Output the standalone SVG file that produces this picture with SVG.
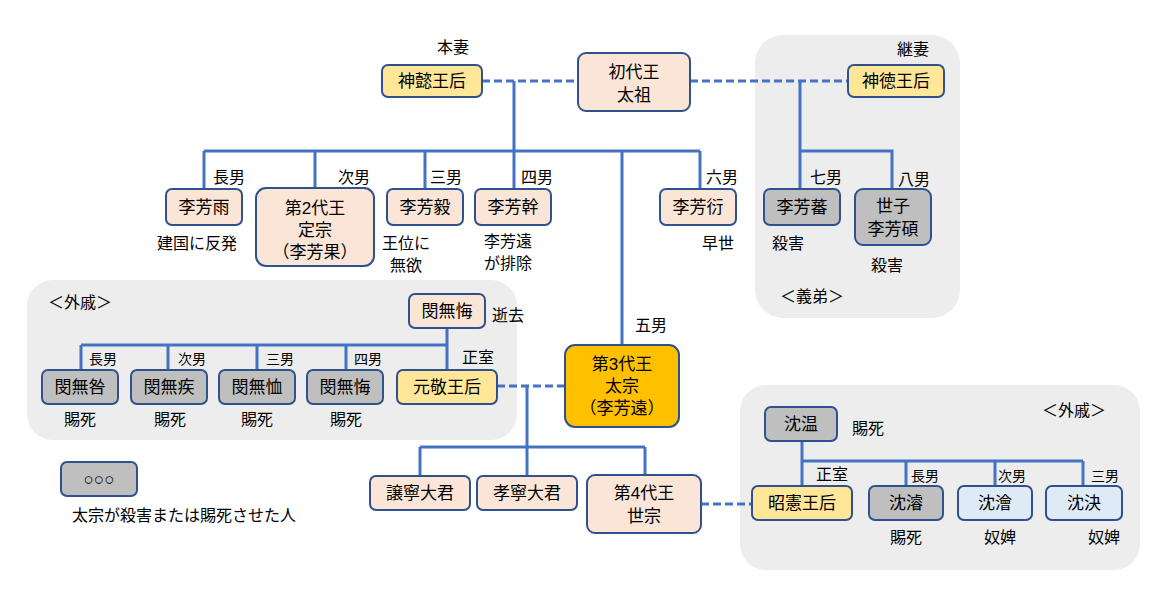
<svg xmlns="http://www.w3.org/2000/svg" width="1165" height="592" viewBox="0 0 1165 592">
<style>
text{font-family:"Liberation Sans","Noto Sans CJK JP",sans-serif;fill:#000;text-anchor:middle}
.n{font-size:17px}
.l{font-size:16px}
.s{font-size:14px}
.b{stroke:#2F528F;stroke-width:2}
.pe{fill:#FBE5D6}.ye{fill:#FFE699}.go{fill:#FFC000}.gr{fill:#BFBFBF}.lb{fill:#DEEBF7}
.ln{stroke:#4472C4;stroke-width:3;fill:none}
.d{stroke-dasharray:8 4}
.pn{fill:#EDEDED}
</style>
<rect class="pn" x="755" y="35" width="205" height="283" rx="28"/>
<rect class="pn" x="27" y="280" width="490" height="160" rx="26"/>
<rect class="pn" x="740" y="385" width="400" height="185" rx="26"/>
<g id="connectors">
<path class="ln d" d="M482 81H578M690 81H848M497 386H565M701 504H752"/>
<path class="ln" d="M514 81V151M204 151H700M204 151V189M315 151V188M425 151V189M514 151V189M700 151V189M622 151V345"/>
<path class="ln" d="M800 81V189M800 151H892V189"/>
<path class="ln" d="M447 328V370M81 345H447M81 345V370M168 345V370M257 345V370M346 345V370"/>
<path class="ln" d="M527 386V447M420 447H645M420 447V476M527 447V476M645 447V475"/>
<path class="ln" d="M802 441V486M802 461H1083M906 461V486M995 461V486M1083 461V486"/>
</g>
<g id="n1"><rect class="b ye" x="382" y="65" width="100" height="32" rx="6"/><text class="n" x="432" y="87">神懿王后</text></g>
<g id="n2"><rect class="b pe" x="578" y="53" width="112" height="58" rx="8"/><text class="n" x="634" y="78">初代王</text><text class="n" x="634" y="101">太祖</text></g>
<g id="n3"><rect class="b ye" x="848" y="65" width="96" height="32" rx="6"/><text class="n" x="896" y="87">神徳王后</text></g>
<g id="n4"><rect class="b pe" x="166" y="189" width="76" height="36" rx="6"/><text class="n" x="204" y="213">李芳雨</text></g>
<g id="n5"><rect class="b pe" x="256" y="188" width="118" height="78" rx="10"/><text class="n" x="315" y="214">第2代王</text><text class="n" x="315" y="236">定宗</text><text class="n" x="315" y="258">（李芳果）</text></g>
<g id="n6"><rect class="b pe" x="387" y="189" width="76" height="36" rx="6"/><text class="n" x="425" y="213">李芳毅</text></g>
<g id="n7"><rect class="b pe" x="475" y="189" width="76" height="36" rx="6"/><text class="n" x="513" y="213">李芳幹</text></g>
<g id="n8"><rect class="b pe" x="660" y="189" width="76" height="36" rx="6"/><text class="n" x="698" y="213">李芳衍</text></g>
<g id="n9"><rect class="b gr" x="764" y="189" width="76" height="36" rx="6"/><text class="n" x="802" y="213">李芳蕃</text></g>
<g id="n10"><rect class="b gr" x="855" y="189" width="76" height="56" rx="8"/><text class="n" x="893" y="212">世子</text><text class="n" x="893" y="235">李芳碩</text></g>
<g id="n11"><rect class="b pe" x="409" y="294" width="76" height="34" rx="6"/><text class="n" x="447" y="317">閔無悔</text></g>
<g id="n12"><rect class="b gr" x="42" y="370" width="76" height="34" rx="6"/><text class="n" x="80" y="393">閔無咎</text></g>
<g id="n13"><rect class="b gr" x="131" y="370" width="76" height="34" rx="6"/><text class="n" x="169" y="393">閔無疾</text></g>
<g id="n14"><rect class="b gr" x="219" y="370" width="76" height="34" rx="6"/><text class="n" x="257" y="393">閔無恤</text></g>
<g id="n15"><rect class="b gr" x="307" y="370" width="76" height="34" rx="6"/><text class="n" x="345" y="393">閔無悔</text></g>
<g id="n16"><rect class="b ye" x="397" y="370" width="100" height="34" rx="6"/><text class="n" x="447" y="393">元敬王后</text></g>
<g id="n17"><rect class="b go" x="565" y="345" width="114" height="82" rx="10"/><text class="n" x="622" y="370">第3代王</text><text class="n" x="622" y="392">太宗</text><text class="n" x="622" y="414">（李芳遠）</text></g>
<g id="n18"><rect class="b pe" x="370" y="476" width="100" height="34" rx="6"/><text class="n" x="420" y="499">譲寧大君</text></g>
<g id="n19"><rect class="b pe" x="477" y="476" width="100" height="34" rx="6"/><text class="n" x="527" y="499">孝寧大君</text></g>
<g id="n20"><rect class="b pe" x="587" y="475" width="114" height="58" rx="8"/><text class="n" x="644" y="499">第4代王</text><text class="n" x="644" y="522">世宗</text></g>
<g id="n21"><rect class="b gr" x="765" y="407" width="72" height="34" rx="6"/><text class="n" x="801" y="430">沈温</text></g>
<g id="n22"><rect class="b ye" x="752" y="486" width="100" height="34" rx="6"/><text class="n" x="802" y="509">昭憲王后</text></g>
<g id="n23"><rect class="b gr" x="869" y="486" width="74" height="34" rx="6"/><text class="n" x="906" y="509">沈濬</text></g>
<g id="n24"><rect class="b lb" x="958" y="486" width="74" height="34" rx="6"/><text class="n" x="995" y="509">沈澮</text></g>
<g id="n25"><rect class="b lb" x="1046" y="486" width="76" height="34" rx="6"/><text class="n" x="1084" y="509">沈決</text></g>
<g id="legend"><rect class="b gr" x="61" y="462" width="76" height="34" rx="6"/><text class="n" x="99" y="485">○○○</text><text class="l" x="184" y="521">太宗が殺害または賜死させた人</text></g>
<g id="labels">
<text class="l" x="453" y="53">本妻</text><text class="l" x="913" y="55">継妻</text>
<text class="l" x="229" y="183">長男</text><text class="l" x="354" y="183">次男</text><text class="l" x="446" y="183">三男</text><text class="l" x="537" y="183">四男</text><text class="l" x="722" y="183">六男</text><text class="l" x="826" y="183">七男</text><text class="l" x="914" y="185">八男</text><text class="l" x="651" y="331">五男</text>
<text class="l" x="197" y="249">建国に反発</text><text class="l" x="406" y="249">王位に</text><text class="l" x="406" y="271">無欲</text><text class="l" x="508" y="247">李芳遠</text><text class="l" x="508" y="269">が排除</text><text class="l" x="718" y="249">早世</text><text class="l" x="788" y="249">殺害</text><text class="l" x="887" y="271">殺害</text><text class="l" x="812" y="302">＜義弟＞</text>
<text class="l" x="80" y="308">＜外戚＞</text><text class="l" x="508" y="321">逝去</text><text class="l" x="478" y="363">正室</text>
<text class="s" x="103" y="364">長男</text><text class="s" x="192" y="364">次男</text><text class="s" x="280" y="364">三男</text><text class="s" x="368" y="364">四男</text>
<text class="l" x="80" y="425">賜死</text><text class="l" x="170" y="425">賜死</text><text class="l" x="257" y="425">賜死</text><text class="l" x="346" y="425">賜死</text>
<text class="l" x="1074" y="416">＜外戚＞</text><text class="l" x="868" y="434">賜死</text><text class="l" x="832" y="480">正室</text>
<text class="s" x="925" y="481">長男</text><text class="s" x="1012" y="481">次男</text><text class="s" x="1105" y="481">三男</text>
<text class="l" x="906" y="543">賜死</text><text class="l" x="1000" y="543">奴婢</text><text class="l" x="1104" y="543">奴婢</text>
</g>
</svg>
